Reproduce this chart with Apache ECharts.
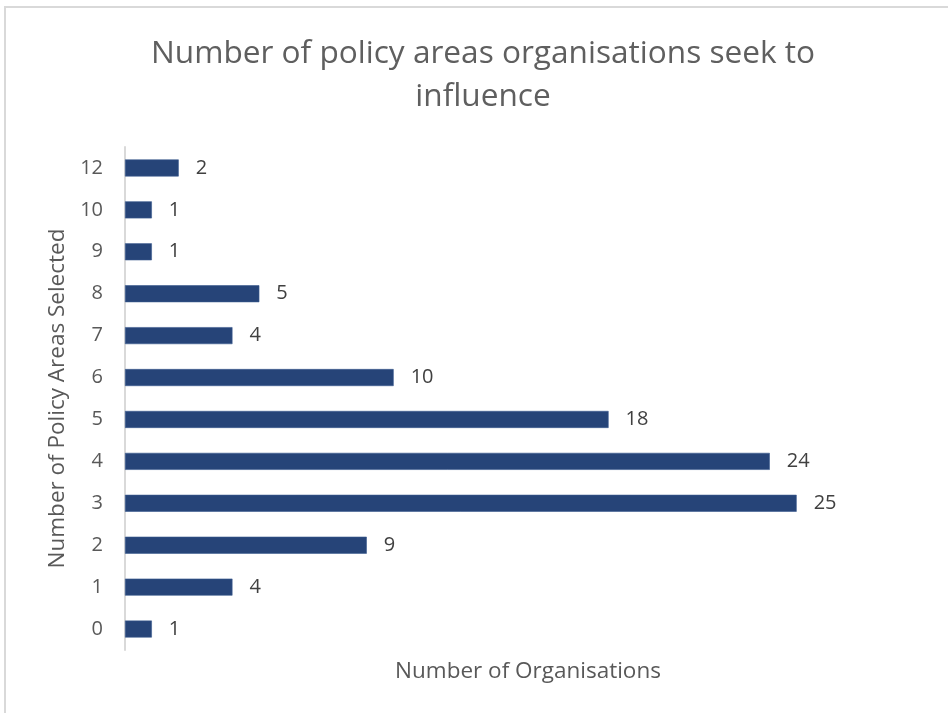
<!DOCTYPE html>
<html>
<head>
<meta charset="utf-8">
<script src="https://cdn.jsdelivr.net/npm/echarts@6/dist/echarts.min.js"></script>
<style>
  html, body { margin: 0; padding: 0; background: #ffffff; }
  #chart { width: 948px; height: 713px; }
</style>
</head>
<body>
<div id="chart"></div>
<script>
// Number of policy areas selected (bottom to top)
const policyAreaCounts = ['0', '1', '2', '3', '4', '5', '6', '7', '8', '9', '10', '12'];
// Number of organisations for each count
const organisationCounts = [1, 4, 9, 25, 24, 18, 10, 4, 5, 1, 1, 2];

const titleText = 'Number of policy areas organisations seek to\ninfluence';
const xAxisTitle = 'Number of Organisations';
const yAxisTitle = 'Number of Policy Areas Selected';

const fontFamily = '"Open Sans", "Noto Sans", sans-serif';

const chart = echarts.init(document.getElementById('chart'), null, { renderer: 'canvas' });

chart.setOption({
  backgroundColor: '#ffffff',
  animation: false,
  graphic: [{
    type: 'rect',
    shape: { x: 5, y: 7, width: 1000, height: 1000 },
    style: { fill: 'none', stroke: '#d9d9d9', lineWidth: 2 },
    silent: true,
    z: -1
  }],
  title: {
    text: titleText,
    left: 478,
    textAlign: 'center',
    top: 27,
    textStyle: {
      fontFamily: fontFamily,
      fontSize: 31.6,
      fontWeight: 'normal',
      color: '#5f5f5f',
      lineHeight: 43
    }
  },
  grid: {
    left: 125,
    top: 147,
    right: 17,
    bottom: 63,
    containLabel: false
  },
  xAxis: {
    type: 'value',
    min: 0,
    max: 30,
    name: xAxisTitle,
    nameLocation: 'middle',
    nameGap: 10,
    nameTextStyle: { fontFamily: fontFamily, fontSize: 22.5, color: '#595959' },
    axisLine: { show: false },
    axisTick: { show: false },
    axisLabel: { show: false },
    splitLine: { show: false }
  },
  yAxis: {
    type: 'category',
    data: policyAreaCounts,
    name: yAxisTitle,
    nameLocation: 'middle',
    nameGap: 55,
    nameTextStyle: { fontFamily: fontFamily, fontSize: 22.5, color: '#595959' },
    axisLine: { show: true, lineStyle: { color: '#d9d9d9', width: 2 } },
    axisTick: { show: false },
    axisLabel: { fontFamily: fontFamily, fontSize: 20, color: '#595959', margin: 22 },
    splitLine: { show: false }
  },
  series: [{
    type: 'bar',
    data: organisationCounts,
    barWidth: 17,
    itemStyle: { color: '#264478', borderColor: '#3a5a8f', borderWidth: 0.6 },
    label: {
      show: true,
      position: 'right',
      distance: 17,
      fontFamily: fontFamily,
      fontSize: 20,
      color: '#404040'
    }
  }]
});
</script>
</body>
</html>
